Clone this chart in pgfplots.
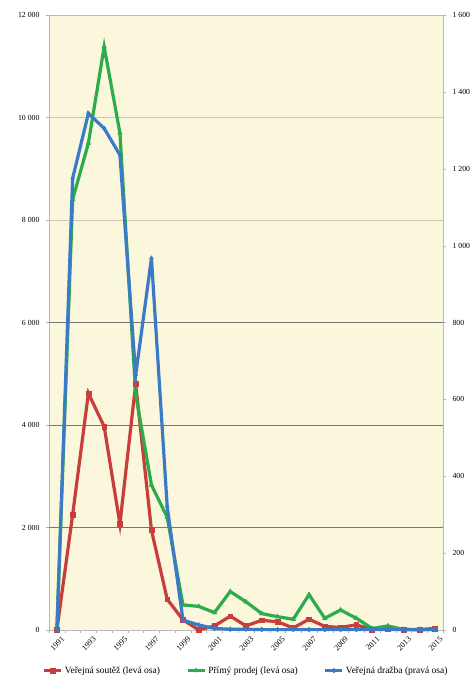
\documentclass[border=0pt]{standalone}
\usepackage{pgfplots}
\pgfplotsset{compat=1.18}
\usepackage{fontspec}
\setmainfont{Liberation Serif}
\definecolor{cred}{RGB}{200,62,58}
\definecolor{cgreen}{RGB}{44,172,74}
\definecolor{cblue}{RGB}{58,122,198}
\definecolor{bgy}{RGB}{250,247,220}
\definecolor{gdark}{RGB}{120,120,115}
\definecolor{glight}{RGB}{205,200,180}
\begin{document}
\begin{tikzpicture}
\path[use as bounding box] (-49pt,-50pt) rectangle (427pt,630pt);
\begin{axis}[
  at={(0pt,0pt)}, anchor=south west,
  width=394pt, height=615pt, scale only axis,
  xmin=1990.5, xmax=2015.5, ymin=0, ymax=12000,
  axis background/.style={fill=bgy},
  axis line style={draw=gray!55},
  xtick pos=bottom, ytick pos=left,
  /pgf/number format/assume math mode=true,
  /pgf/number format/1000 sep={\ },
  scaled y ticks=false,
  ytick={0,2000,...,12000},
  ymajorgrids, major grid style={draw=glight, line width=0.8pt},
  extra y ticks={2000,4000,6000}, extra y tick labels={},
  extra y tick style={grid=major, major grid style={draw=gdark, line width=0.8pt}},
  tick align=outside, major tick length=3pt, minor tick length=3pt,
  tick style={draw=gray!60},
  yticklabel style={font=\fontsize{7.8}{8}\selectfont, xshift=-3pt},
  xtick={1991,1993,...,2015},
  xticklabels={1991,1993,1995,1997,1999,2001,2003,2005,2007,2009,2011,2013,2015},
  major x tick style={draw=none},
  minor xtick={1990.5,1991.5,...,2015.5},
  xticklabel style={font=\fontsize{8}{8}\selectfont, rotate=45, anchor=north east, inner sep=1pt, xshift=2pt, yshift=-4pt},
  legend style={at={(axis description cs:0.5,-0.066)}, anchor=center, draw=none, fill=none,
    font=\fontsize{9.5}{10}\selectfont, legend columns=3,
    /tikz/every even column/.append style={column sep=24pt}},
  legend cell align=left,
  clip=false,
]
\addplot[cred, line width=3.2pt, mark=square*, mark size=2.4pt, mark options={line width=0.5pt}] coordinates {
(1991,0) (1992,2250) (1993,4620) (1994,3970) (1995,2070) (1996,4800) (1997,1950) (1998,600) (1999,200) (2000,0)
(2001,80) (2002,270) (2003,80) (2004,190) (2005,160) (2006,40) (2007,210) (2008,70) (2009,50) (2010,100)
(2011,10) (2012,20) (2013,10) (2014,10) (2015,30)};
\addlegendentry{Veřejná soutěž (levá osa)}
\addplot[cgreen, line width=3.2pt, mark=triangle*, mark size=2.6pt, mark options={line width=0.5pt}] coordinates {
(1991,0) (1992,8400) (1993,9500) (1994,11380) (1995,9700) (1996,4600) (1997,2830) (1998,2200) (1999,490) (2000,460)
(2001,340) (2002,750) (2003,550) (2004,320) (2005,260) (2006,210) (2007,690) (2008,230) (2009,390) (2010,230)
(2011,30) (2012,80) (2013,10) (2014,5) (2015,10)};
\addlegendentry{Přímý prodej (levá osa)}
\addlegendimage{cblue, line width=3.2pt, mark=diamond*, mark size=2.4pt, mark options={line width=0.5pt}}
\addlegendentry{Veřejná dražba (pravá osa)}
\end{axis}
\begin{axis}[
  at={(0pt,0pt)}, anchor=south west,
  width=394pt, height=615pt, scale only axis,
  xmin=1990.5, xmax=2015.5, ymin=0, ymax=1600,
  axis y line*=right, axis x line=none, xtick=\empty,
  axis line style={draw=gray!55},
  /pgf/number format/assume math mode=true,
  /pgf/number format/1000 sep={\ },
  scaled y ticks=false,
  ytick={0,200,...,1600},
  tick align=outside, major tick length=3pt,
  tick style={draw=gray!60},
  yticklabel style={font=\fontsize{7.8}{8}\selectfont, xshift=3pt},
  clip=false,
]
\addplot[cblue, line width=3.2pt, mark=diamond*, mark size=2.4pt, mark options={line width=0.5pt}] coordinates {
(1991,0) (1992,1175) (1993,1344) (1994,1305) (1995,1236) (1996,663) (1997,967) (1998,321) (1999,26) (2000,13)
(2001,4) (2002,2) (2003,2) (2004,1) (2005,1) (2006,1) (2007,1) (2008,1) (2009,1) (2010,1)
(2011,1) (2012,1) (2013,1) (2014,1) (2015,1)};
\end{axis}
\end{tikzpicture}
\end{document}
